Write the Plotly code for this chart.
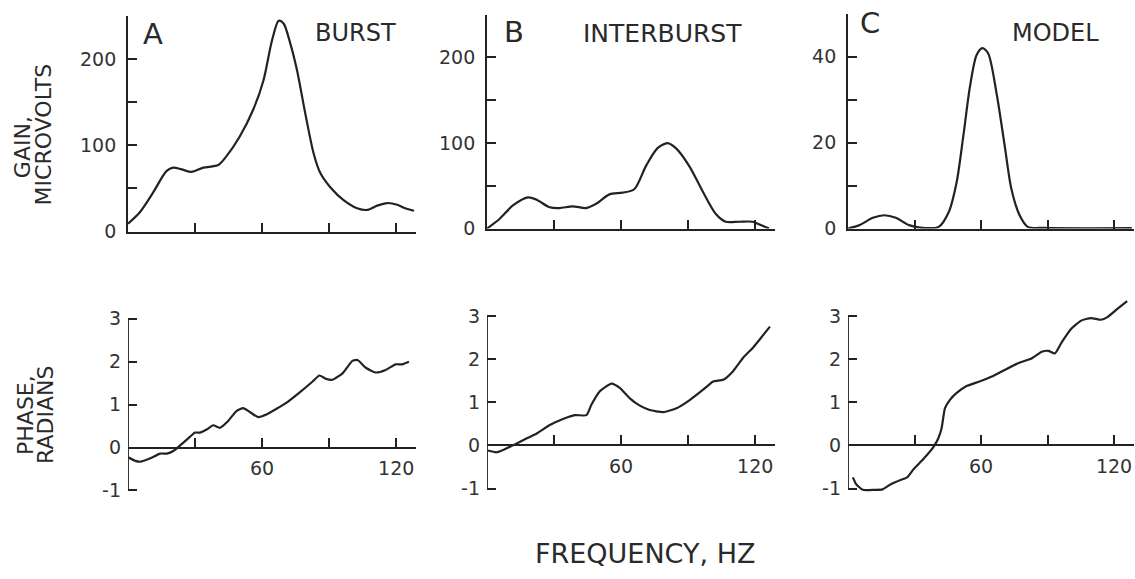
import plotly.graph_objects as go

# ---------------- data ----------------
freq_a_gain = [0, 5.2, 11.2, 17.2, 20.2, 24, 28.4, 33.7, 40.4, 44, 50, 56, 60.6, 64.4, 67.4,
               69.6, 72.6, 75.6, 79.3, 83, 86, 90.6, 96.6, 102.5, 107, 111.5, 116, 120.5, 124, 128]
gain_a = [9, 22, 45, 70, 74, 72, 69, 74, 77, 87, 110, 141, 175, 221, 244,
          241, 218, 187, 137, 91, 68, 51, 36, 27, 25, 30, 33, 31, 27, 24]

freq_b_gain = [0, 5.7, 11.6, 18.3, 22, 28, 32.4, 38.4, 44.3, 48.8, 54.8, 60.7, 65.9, 71.1,
               76.3, 80.8, 84.5, 90.5, 96.4, 102.4, 106.8, 112.8, 118.8, 121.7, 126.2]
gain_b = [0, 11.5, 27, 36.5, 34, 25, 24, 26, 24, 29, 40, 42, 46, 73,
          94, 100, 94, 73, 44, 17, 8, 8, 8, 5, 0]

freq_c_gain = [0, 5.2, 11.2, 16.4, 21.6, 27.5, 33.5, 40.9, 45.4, 49, 52, 55, 58, 60.6,
               63.2, 67, 70.7, 73.7, 77.4, 81.1, 88.5, 128]
gain_c = [0, 0.8, 2.5, 3.1, 2.5, 0.8, 0.15, 0.4, 3.8, 10.8, 21.5, 33, 40.4, 42.0,
          40.8, 31.5, 19.2, 9.2, 3.1, 0.4, 0.15, 0.1]

freq_a_phase = [0.3, 3.3, 5.5, 10, 14.4, 17.4, 20.3, 24, 27.7, 30, 32.2, 35.2, 38.1, 41.1,
                44.8, 48.5, 51.5, 54.5, 58.2, 61.9, 66.3, 70.8, 76.7, 82.6, 85.6, 88.6,
                91.5, 96, 100.4, 102.7, 106.4, 110.8, 115.3, 119.7, 122.7, 125.7]
phase_a = [-0.23, -0.31, -0.33, -0.25, -0.14, -0.14, -0.08, 0.08, 0.25, 0.35, 0.35, 0.42,
           0.52, 0.46, 0.62, 0.85, 0.92, 0.83, 0.71, 0.77, 0.9, 1.04, 1.28, 1.54, 1.68,
           1.6, 1.58, 1.73, 2.02, 2.04, 1.86, 1.75, 1.81, 1.94, 1.94, 2.0]

freq_b_phase = [0.4, 4.2, 7.9, 11.6, 17.6, 22.1, 28.1, 34, 39.3, 44.5, 46.7, 50.4, 55.7,
                59.4, 63.9, 68.4, 72.8, 78.8, 84.8, 90.7, 96.7, 101.2, 105.7, 110.1, 114.6,
                119.1, 122.1, 126.6]
phase_b = [-0.12, -0.16, -0.09, 0, 0.16, 0.27, 0.47, 0.61, 0.70, 0.70, 0.94, 1.25, 1.43,
           1.33, 1.09, 0.92, 0.82, 0.77, 0.86, 1.05, 1.29, 1.48, 1.52, 1.72, 2.03, 2.27,
           2.46, 2.75]

freq_c_phase = [2.2, 3.7, 6.7, 11.9, 15.6, 19.3, 23.7, 26.7, 29.6, 34.1, 38.5, 40.7, 42.2,
                43.7, 45.9, 48.9, 53.3, 59.3, 65.2, 71.1, 77, 83, 87.4, 90.4, 93.3, 96.3,
                100.7, 105.2, 109.6, 114.1, 117, 121.5, 125.9]
phase_c = [-0.74, -0.9, -1.03, -1.03, -1.02, -0.9, -0.8, -0.74, -0.55, -0.31, -0.04, 0.16,
           0.39, 0.86, 1.05, 1.21, 1.37, 1.48, 1.6, 1.76, 1.91, 2.02, 2.17, 2.19, 2.13,
           2.38, 2.7, 2.89, 2.95, 2.91, 2.97, 3.16, 3.34]

panel_letters = ["A", "B", "C"]
panel_names = ["BURST", "INTERBURST", "MODEL"]
freq_ticks = [30, 60, 90, 120]
freq_ticktext_bottom = ["", "60", "", "120"]
gain_ticks_ab = [0, 50, 100, 150, 200]
gain_ticktext_ab = ["0", "", "100", "", "200"]
gain_ticks_c = [0, 10, 20, 30, 40]
gain_ticktext_c = ["0", "", "20", "", "40"]
phase_ticks = [-1, 0, 1, 2, 3]
phase_ticktext = ["-1", "0", "1", "2", "3"]

# ---------------- layout geometry ----------------
W, H = 1135, 579
INK = "#222222"
FONT = "DejaVu Sans"


def px(x):
    return x / W


def py(y):
    return 1 - y / H


XMAX = 129.0
PX_PER_HZ = 2.235
x_left = [128, 487, 848]

# top panels: (y pixel of 0, y pixel of top value, top value)
top_geo = [(236, 16, 250), (233, 15, 250), (233, 14, 50)]
# bottom panels: y pixel of -1 and of 3
bot_geo = [(500, 325), (498, 322), (498, 322)]
BOT_RANGE = [-1.1, 3.4]

fig = go.Figure()

top_data = [(freq_a_gain, gain_a), (freq_b_gain, gain_b), (freq_c_gain, gain_c)]
bot_data = [(freq_a_phase, phase_a), (freq_b_phase, phase_b), (freq_c_phase, phase_c)]

line_style = dict(color=INK, width=2.2)

for i in range(3):
    n_top = i + 1
    n_bot = i + 4
    fx, fy = top_data[i]
    fig.add_trace(go.Scatter(x=fx, y=fy, mode="lines", line=dict(shape="spline", smoothing=0.8, **line_style),
                             xaxis="x" if n_top == 1 else f"x{n_top}",
                             yaxis="y" if n_top == 1 else f"y{n_top}", showlegend=False))
    bx, by = bot_data[i]
    fig.add_trace(go.Scatter(x=bx, y=by, mode="lines", line=dict(shape="spline", smoothing=0.5, **line_style),
                             xaxis=f"x{n_bot}", yaxis=f"y{n_bot}", showlegend=False))

axis_common = dict(showgrid=False, zeroline=False, linecolor=INK, linewidth=1.8,
                   ticks="inside", ticklen=9, tickwidth=1.6, tickcolor=INK,
                   tickfont=dict(family=FONT, size=19, color="#333333"))

layout_axes = {}
shapes = []
for i in range(3):
    x0 = x_left[i]
    x1 = x0 + XMAX * PX_PER_HZ
    x1 = min(x1, W - 1)
    # ---- top ----
    yb, yt, vtop = top_geo[i]
    n = i + 1
    xk = "xaxis" if n == 1 else f"xaxis{n}"
    yk = "yaxis" if n == 1 else f"yaxis{n}"
    xr = "x" if n == 1 else f"x{n}"
    yr = "y" if n == 1 else f"y{n}"
    layout_axes[xk] = dict(domain=[px(x0), px(x1)], range=[0, XMAX], anchor=yr,
                           showline=True, tickvals=freq_ticks, showticklabels=False, **axis_common)
    if i < 2:
        tv, tt = gain_ticks_ab, gain_ticktext_ab
    else:
        tv, tt = gain_ticks_c, gain_ticktext_c
    layout_axes[yk] = dict(domain=[py(yb), py(yt)], range=[0, vtop], anchor=xr,
                           showline=True, tickvals=tv, ticktext=tt, ticklabelstandoff=6, **axis_common)
    # ---- bottom ----
    n = i + 4
    ym1, y3 = bot_geo[i]
    scale = (ym1 - y3) / 4.0
    ybot = ym1 + (-1 - BOT_RANGE[0]) * scale
    ytop = y3 - (BOT_RANGE[1] - 3) * scale
    yzero = ym1 - 1 * scale
    layout_axes[f"xaxis{n}"] = dict(domain=[px(x0), px(x1)], range=[0, XMAX], anchor="free",
                                    position=py(yzero), showline=True, tickvals=freq_ticks,
                                    ticktext=freq_ticktext_bottom, ticklabelstandoff=4, **axis_common)
    layout_axes[f"yaxis{n}"] = dict(domain=[py(ybot), py(ytop)], range=BOT_RANGE, anchor=f"x{n}",
                                    showline=False, tickvals=phase_ticks, ticktext=phase_ticktext,
                                    ticklabelstandoff=6, **axis_common)
    shapes.append(dict(type="line", xref=f"x{n}", yref=f"y{n}", x0=0, x1=0, y0=-1, y1=3,
                       line=dict(color=INK, width=1.8)))

annotations = []


def add_text(text, x, y, size, angle=0):
    annotations.append(dict(text=text, x=px(x), y=py(y), xref="paper", yref="paper",
                            showarrow=False, xanchor="center", yanchor="middle", textangle=angle,
                            font=dict(family=FONT, size=size, color="#2a2a2a")))


letter_pos = [(153, 35), (514, 33), (870, 23)]
name_pos = [(355, 34), (662, 34), (1055, 34)]
name_size = [24, 25, 24]
for i in range(3):
    add_text(panel_letters[i], *letter_pos[i], 29)
    add_text(panel_names[i], *name_pos[i], name_size[i])

add_text("GAIN,", 22, 150, 22, -90)
add_text("MICROVOLTS", 43, 137, 22, -90)
add_text("PHASE,", 26, 423, 22, -90)
add_text("RADIANS", 46, 423, 22, -90)
add_text("FREQUENCY, HZ", 645, 564, 27)

fig.update_layout(width=W, height=H, margin=dict(l=0, r=0, t=0, b=0),
                  paper_bgcolor="white", plot_bgcolor="rgba(0,0,0,0)",
                  showlegend=False, shapes=shapes, annotations=annotations, **layout_axes)

fig.write_html("out.html", config={"displayModeBar": False},
               post_script="document.body.style.margin='0';document.body.style.overflow='hidden';")
